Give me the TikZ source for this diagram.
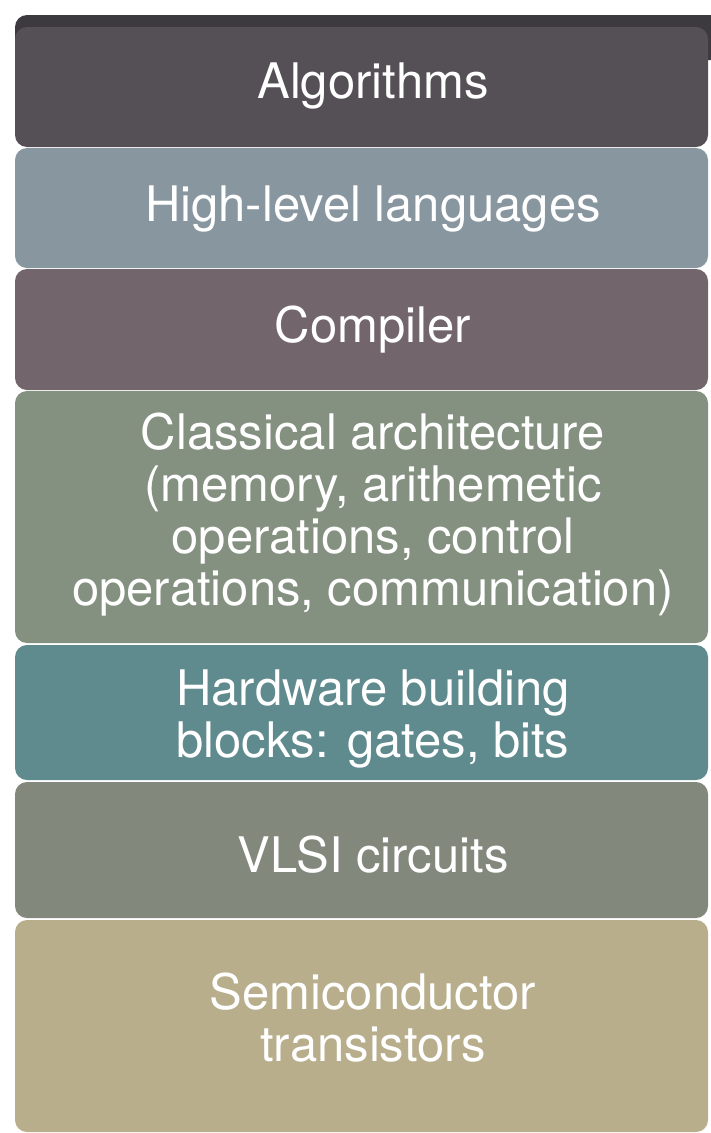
\documentclass[tikz,border=0pt]{standalone}
\usepackage{fontspec}
\setmainfont{TeX Gyre Heros}

\definecolor{algtop}{HTML}{3D3A3F}
\definecolor{algcol}{HTML}{555055}
\definecolor{hllcol}{HTML}{8896A0}
\definecolor{compcol}{HTML}{72666C}
\definecolor{archcol}{HTML}{849080}
\definecolor{hwcol}{HTML}{5F8A8E}
\definecolor{vlsicol}{HTML}{82887C}
\definecolor{semicol}{HTML}{B8AE8C}

\tikzset{
  layer/.style={rectangle, rounded corners=12pt, minimum width=693pt, inner sep=0pt},
  tag/.style={text=white, font=\fontsize{49}{52}\selectfont, align=center, inner sep=0pt}
}

\begin{document}
\begin{tikzpicture}[x=1pt,y=-1pt]
\useasboundingbox (0,0) rectangle (710,1133);

%top face of the stack
\fill[algtop, rounded corners=12pt] (15,15) rectangle (730,60);

%draw the layers, top to bottom
\node[layer, fill=algcol,  minimum height=120pt] (alg)  at (361.5,87) {};
\node[layer, fill=hllcol,  minimum height=120pt] (hll)  at (361.5,208) {};
\node[layer, fill=compcol, minimum height=121pt] (comp) at (361.5,329.5) {};
\node[layer, fill=archcol, minimum height=252pt] (arch) at (361.5,517) {};
\node[layer, fill=hwcol,   minimum height=135pt] (hw)   at (361.5,712.5) {};
\node[layer, fill=vlsicol, minimum height=136pt] (vlsi) at (361.5,850) {};
\node[layer, fill=semicol, minimum height=212pt] (semi) at (361.5,1026) {};

%labels
\node[tag] (algtxt)  at (373,86)   {Algorithms};
\node[tag] (hlltxt)  at (373,209)  {High-level languages};
\node[tag] (comptxt) at (373,330)  {Compiler};
\node[tag] (archtxt) at (373,515)  {Classical architecture\\(memory, arithemetic\\operations, control\\operations, communication)};
\node[tag] (hwtxt)   at (373,719)  {Hardware building\\blocks: gates, bits};
\node[tag] (vlsitxt) at (373,855)  {VLSI circuits};
\node[tag] (semitxt) at (373,1018) {Semiconductor\\transistors};
\end{tikzpicture}
\end{document}
